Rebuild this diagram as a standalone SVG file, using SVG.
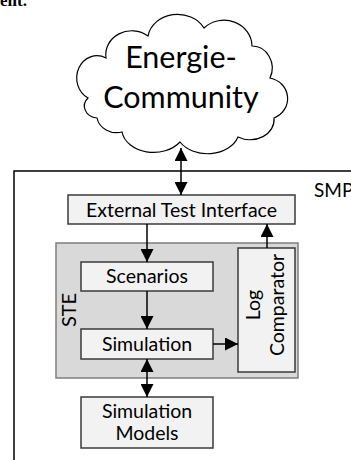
<svg xmlns="http://www.w3.org/2000/svg" width="351" height="460" viewBox="0 0 351 460">
<defs>
<style>
.t{font-family:Lato,"Open Sans","Liberation Sans",sans-serif;fill:#000;}
.box{fill:#f2f2f2;stroke:#3a3a3a;stroke-width:1.5;}
.ste{fill:#d9d9d9;stroke:#7f7f7f;stroke-width:1.5;}
.ln{fill:none;stroke:#000;stroke-width:1.5;}
</style>
<marker id="ah" markerUnits="userSpaceOnUse" markerWidth="14" markerHeight="13" refX="13" refY="6.5" orient="auto-start-reverse">
<path d="M0,0 L13,6.5 L0,13 z" fill="#000"/>
</marker>
</defs>
<rect width="351" height="460" fill="#fff"/>
<text x="0" y="6" font-family="'Liberation Serif',serif" font-size="17" font-weight="bold">ent.</text>
<g id="smp">
<path class="ln" d="M14,460 V171 H352"/>
<text class="t" x="314" y="197" font-size="19">SMP</text>
</g>
<g id="cloud">
<path d="M88,98 A20,22 0 0 1 106,58 A26,24 0 0 1 148,36 A30,26 0 0 1 204,28 A28,26 0 0 1 252,46 A20,22 0 0 1 270,78 A22,21 0 0 1 274,118 A24,20 0 0 1 238,137 A32,24 0 0 1 180,142 A32,24 0 0 1 122,132 A20,18 0 0 1 97,118 A14,12 0 0 1 88,98 Z" fill="#fff" stroke="#000" stroke-width="1.2"/>
<text class="t" x="181" y="68" font-size="30.5" text-anchor="middle">Energie-</text>
<text class="t" x="181" y="108" font-size="30.5" text-anchor="middle">Community</text>
</g>
<g id="eti">
<rect class="box" x="68" y="195" width="227" height="29"/>
<text class="t" x="181.5" y="217" font-size="19.5" text-anchor="middle">External Test Interface</text>
</g>
<g id="ste">
<rect class="ste" x="56" y="243" width="242" height="135"/>
<text class="t" transform="translate(76,310) rotate(-90)" font-size="20" text-anchor="middle">STE</text>
</g>
<g id="scenarios">
<rect class="box" x="81" y="262" width="132" height="29"/>
<text class="t" x="147" y="283" font-size="19.5" text-anchor="middle">Scenarios</text>
</g>
<g id="logcomp">
<rect class="box" x="238" y="248" width="57" height="124"/>
<text class="t" transform="translate(260,305) rotate(-90)" font-size="19.5" text-anchor="middle">Log</text>
<text class="t" transform="translate(284,305) rotate(-90)" font-size="19.5" text-anchor="middle">Comparator</text>
</g>
<g id="simulation">
<rect class="box" x="81" y="329" width="132" height="30"/>
<text class="t" x="147" y="351" font-size="19.5" text-anchor="middle">Simulation</text>
</g>
<g id="models">
<rect class="box" x="81" y="397" width="132" height="51"/>
<text class="t" x="147" y="418" font-size="19.5" text-anchor="middle">Simulation</text>
<text class="t" x="147" y="440" font-size="19.5" text-anchor="middle">Models</text>
</g>
<g id="connectors">
<line class="ln" x1="181" y1="148" x2="181" y2="195" marker-start="url(#ah)" marker-end="url(#ah)"/>
<line class="ln" x1="147" y1="224" x2="147" y2="262" marker-end="url(#ah)"/>
<line class="ln" x1="267" y1="248" x2="267" y2="224" marker-end="url(#ah)"/>
<line class="ln" x1="147" y1="291" x2="147" y2="329" marker-end="url(#ah)"/>
<line class="ln" x1="213" y1="344" x2="238" y2="344" marker-end="url(#ah)"/>
<line class="ln" x1="147" y1="359" x2="147" y2="397" marker-start="url(#ah)" marker-end="url(#ah)"/>
</g>
</svg>
